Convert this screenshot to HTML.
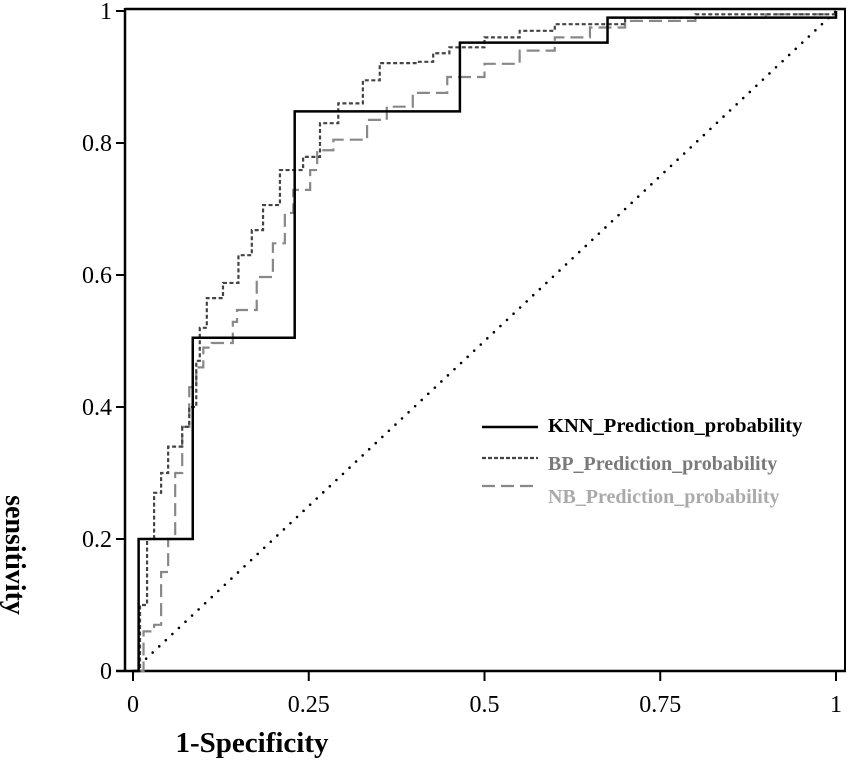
<!DOCTYPE html>
<html><head><meta charset="utf-8"><style>
html,body{margin:0;padding:0;background:#fff;}
svg{display:block;font-family:"Liberation Serif",serif;}
</style></head><body>
<svg id="chart" width="850" height="767" viewBox="0 0 850 767">
<g id="frame">
<line x1="125" y1="9" x2="846" y2="9" stroke="#000" stroke-width="2.5"/>
<line x1="845" y1="9" x2="845" y2="672" stroke="#000" stroke-width="2"/>
<line x1="125" y1="8" x2="125" y2="672" stroke="#000" stroke-width="2.5"/>
<line x1="116" y1="671" x2="846" y2="671" stroke="#000" stroke-width="2.5"/>
</g>
<g id="ticks"></g>
<g id="series"></g>
<text x="252" y="752" text-anchor="middle" font-size="29" font-weight="bold">1-Specificity</text>
<text transform="translate(6,555) rotate(90)" text-anchor="middle" font-size="28" font-weight="bold">sensitivity</text>
<g>
<g>
<line x1="482" y1="427" x2="538" y2="427" stroke="#000" stroke-width="2.5"/>
<text x="548" y="432" font-size="20.5" font-weight="bold" fill="#000">KNN_Prediction_probability</text></g>
<g>
<line x1="482" y1="458" x2="538" y2="458" stroke="#444" stroke-width="2.2" stroke-dasharray="4,2"/>
<text x="548" y="470" font-size="20" font-weight="bold" fill="#7a7a7a">BP_Prediction_probability</text></g>
<g>
<line x1="482" y1="486" x2="538" y2="486" stroke="#888" stroke-width="2.2" stroke-dasharray="13,6"/>
<text x="548" y="503" font-size="20" font-weight="bold" fill="#aaa">NB_Prediction_probability</text></g>
</g>
</svg>
<script>
const xTicks=[0,0.25,0.5,0.75,1];
const xTickLabels=["0","0.25","0.5","0.75","1"];
const yTicks=[0,0.2,0.4,0.6,0.8,1];
const yTickLabels=["0","0.2","0.4","0.6","0.8","1"];
const knnX=[0,0.008,0.085,0.23,0.465,0.675,1];
const knnY=[0,0.2,0.505,0.848,0.952,0.99,1];
const bpX=[0.005,0.01,0.02,0.03,0.04,0.05,0.07,0.08,0.09,0.095,0.105,0.128,0.15,0.169,0.185,0.209,0.242,0.266,0.292,0.327,0.351,0.404,0.427,0.45,0.5,0.55,0.6,0.7,0.8,1];
const bpY=[0,0.1,0.2,0.27,0.3,0.34,0.37,0.4,0.47,0.52,0.565,0.588,0.63,0.668,0.706,0.759,0.779,0.83,0.86,0.895,0.921,0.923,0.936,0.945,0.96,0.97,0.98,0.99,0.995,1];
const nbX=[0.01,0.015,0.03,0.04,0.05,0.06,0.07,0.08,0.09,0.1,0.112,0.142,0.148,0.176,0.199,0.216,0.228,0.252,0.262,0.285,0.333,0.361,0.398,0.447,0.5,0.55,0.6,0.65,0.7,0.8,0.9,1];
const nbY=[0,0.06,0.07,0.15,0.2,0.3,0.37,0.43,0.46,0.49,0.497,0.529,0.547,0.597,0.648,0.694,0.729,0.759,0.789,0.805,0.835,0.855,0.876,0.9,0.92,0.94,0.96,0.975,0.985,0.99,0.995,1];
const NS="http://www.w3.org/2000/svg";
const sx=v=>133+703*v, sy=v=>671-660*v;
const tg=document.getElementById('ticks');
xTicks.forEach((t,i)=>{
 const l=document.createElementNS(NS,'line');
 l.setAttribute('x1',sx(t));l.setAttribute('x2',sx(t));l.setAttribute('y1',671);l.setAttribute('y2',681);
 l.setAttribute('stroke','#000');l.setAttribute('stroke-width','2');
 
 
 tg.appendChild(l);
 const tx=document.createElementNS(NS,'text');
 tx.setAttribute('x',sx(t));tx.setAttribute('y',712);tx.setAttribute('text-anchor','middle');tx.setAttribute('font-size','24');
 tx.textContent=xTickLabels[i];
 
 
 tg.appendChild(tx);
});
yTicks.forEach((t,i)=>{
 const l=document.createElementNS(NS,'line');
 l.setAttribute('x1',116);l.setAttribute('x2',125);l.setAttribute('y1',sy(t));l.setAttribute('y2',sy(t));
 l.setAttribute('stroke','#000');l.setAttribute('stroke-width','2');
 
 
 tg.appendChild(l);
 const tx=document.createElementNS(NS,'text');
 tx.setAttribute('x',112);tx.setAttribute('y',sy(t)+8);tx.setAttribute('text-anchor','end');tx.setAttribute('font-size','24');
 tx.textContent=yTickLabels[i];
 
 
 tg.appendChild(tx);
});
const sg=document.getElementById('series');
function stepPath(xs,ys){
 let d='M'+sx(xs[0])+','+sy(0);
 for(let i=0;i<xs.length;i++){d+=' H'+sx(xs[i])+' V'+sy(ys[i]);}
 return d;
}
const diag=document.createElementNS(NS,'line');
diag.setAttribute('x1',sx(0));diag.setAttribute('y1',sy(0));diag.setAttribute('x2',sx(1));diag.setAttribute('y2',sy(1));
diag.setAttribute('stroke','#000');diag.setAttribute('stroke-width','2.6');diag.setAttribute('stroke-linecap','round');diag.setAttribute('stroke-dasharray','0 9');


sg.appendChild(diag);
const nb=document.createElementNS(NS,'path');
nb.setAttribute('d',stepPath(nbX,nbY));nb.setAttribute('fill','none');nb.setAttribute('stroke','#888');nb.setAttribute('stroke-width','2.2');nb.setAttribute('stroke-dasharray','13,6');


sg.appendChild(nb);
const bp=document.createElementNS(NS,'path');
bp.setAttribute('d',stepPath(bpX,bpY));bp.setAttribute('fill','none');bp.setAttribute('stroke','#444');bp.setAttribute('stroke-width','2.2');bp.setAttribute('stroke-dasharray','4,2.5');


sg.appendChild(bp);
const knn=document.createElementNS(NS,'path');
knn.setAttribute('d',stepPath(knnX,knnY));knn.setAttribute('fill','none');knn.setAttribute('stroke','#000');knn.setAttribute('stroke-width','2.5');


sg.appendChild(knn);
</script>
</body></html>
